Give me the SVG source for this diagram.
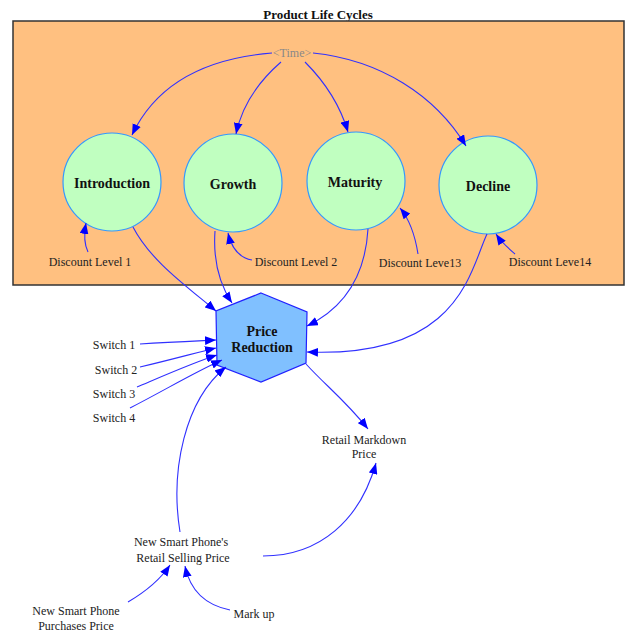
<svg xmlns="http://www.w3.org/2000/svg" width="636" height="633" viewBox="0 0 636 633">
<style>
.lbl{font-family:"Liberation Serif",serif;font-size:12px;fill:#222;text-anchor:middle}
.bold{font-family:"Liberation Serif",serif;font-size:14px;font-weight:bold;fill:#111;text-anchor:middle}
.stage{fill:#C0FFC0;stroke:#3399FF;stroke-width:1.2}
.link{fill:none;stroke:#3030FF;stroke-width:1.1;marker-end:url(#ah)}
</style>
<defs>
<marker id="ah" viewBox="0 0 10 8" refX="10" refY="4" markerWidth="11" markerHeight="9" markerUnits="userSpaceOnUse" orient="auto">
<path d="M0,0 L10,4 L0,8 Z" fill="#0000FF"/>
</marker>
</defs>
<rect width="636" height="633" fill="#fff"/>
<g id="sector">
<text x="318" y="19" class="bold" style="font-size:13px">Product Life Cycles</text>
<rect x="13" y="21" width="611" height="264" fill="#FFC080" stroke="#333" stroke-width="1.5"/>
</g>
<g id="time"><text x="292" y="57" class="lbl" style="fill:#888">&lt;Time&gt;</text></g>
<g id="introduction"><circle cx="112" cy="182" r="49" class="stage"/><text x="112" y="188" class="bold">Introduction</text></g>
<g id="growth"><circle cx="233" cy="183" r="49" class="stage"/><text x="233" y="189" class="bold">Growth</text></g>
<g id="maturity"><circle cx="356" cy="181" r="49" class="stage"/><text x="355" y="187" class="bold">Maturity</text></g>
<g id="decline"><circle cx="488" cy="185" r="49" class="stage"/><text x="488" y="191" class="bold">Decline</text></g>
<g id="dl1"><text x="90" y="266" class="lbl">Discount Level 1</text></g>
<g id="dl2"><text x="296" y="266" class="lbl">Discount Level 2</text></g>
<g id="dl3"><text x="420" y="267" class="lbl">Discount Leve13</text></g>
<g id="dl4"><text x="550" y="266" class="lbl">Discount Leve14</text></g>
<g id="price-reduction">
<polygon points="261,293 307,312 306,363 261,382 217,365 216,311" fill="#80C0FF" stroke="#2020FF" stroke-width="1.2"/>
<text x="262" y="336" class="bold">Price</text>
<text x="262" y="352" class="bold">Reduction</text>
</g>
<g id="switch1"><text x="114" y="349" class="lbl">Switch 1</text></g>
<g id="switch2"><text x="116" y="374" class="lbl">Switch 2</text></g>
<g id="switch3"><text x="114" y="398" class="lbl">Switch 3</text></g>
<g id="switch4"><text x="114" y="422" class="lbl">Switch 4</text></g>
<g id="retail-markdown"><text x="364" y="444" class="lbl">Retail Markdown</text><text x="364" y="458" class="lbl">Price</text></g>
<g id="retail-selling"><text x="181" y="546" class="lbl">New Smart Phone's</text><text x="183" y="562" class="lbl">Retail Selling Price</text></g>
<g id="purchase-price"><text x="76" y="615" class="lbl">New Smart Phone</text><text x="76" y="630" class="lbl">Purchases Price</text></g>
<g id="markup"><text x="254" y="618" class="lbl">Mark up</text></g>
<g id="connectors">
<path class="link" d="M272,53 C210,58 158,80 132,135"/>
<path class="link" d="M281,62 C258,82 242,105 236,134"/>
<path class="link" d="M305,62 C325,82 340,105 348,132"/>
<path class="link" d="M313,53 C380,60 435,95 466,146"/>
<path class="link" d="M88,252 C84,244 84,234 86,223"/>
<path class="link" d="M252,260 C240,258 232,250 228,233"/>
<path class="link" d="M418,254 C415,235 410,220 400,208"/>
<path class="link" d="M515,254 C508,248 502,243 496,234"/>
<path class="link" d="M133,227 C150,260 185,285 216,311"/>
<path class="link" d="M215,231 C213,260 220,285 232,303"/>
<path class="link" d="M368,229 C365,280 340,310 307,326"/>
<path class="link" d="M487,234 C470,270 460,358 307,352"/>
<path class="link" d="M140,344 C170,342 195,341 216,340"/>
<path class="link" d="M140,367 C170,360 195,353 216,348"/>
<path class="link" d="M137,387 C170,373 195,362 217,355"/>
<path class="link" d="M130,408 C165,390 195,372 222,360"/>
<path class="link" d="M306,364 C325,385 345,400 368,429"/>
<path class="link" d="M263,556 C320,556 360,520 376,463"/>
<path class="link" d="M180,532 C170,470 185,400 226,367"/>
<path class="link" d="M128,602 C145,592 160,580 170,565"/>
<path class="link" d="M230,610 C205,605 190,590 185,566"/>
</g>
</svg>
